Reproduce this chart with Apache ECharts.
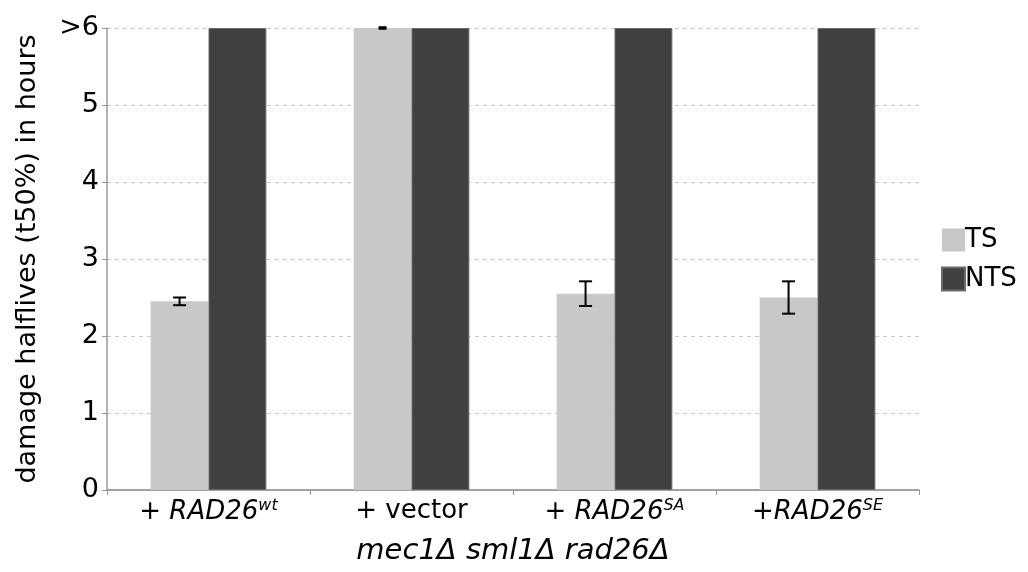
<!DOCTYPE html>
<html>
<head>
<meta charset="utf-8">
<script src="https://cdn.jsdelivr.net/npm/echarts@6/dist/echarts.min.js"></script>
<style>
  html, body { margin: 0; padding: 0; background: #fff; }
  #container { width: 1028px; height: 572px; }
</style>
</head>
<body>
<div id="container"></div>
<script>
var categories = ['+ {i|RAD26}{sup|wt}', '+ vector', '+ {i|RAD26}{sup|SA}', '+{i|RAD26}{sup|SE}'];
var tsValues = [2.45, 6, 2.55, 2.5];
var tsErrors = [0.05, 0.01, 0.16, 0.21];
var ntsValues = [6, 6, 6, 6];
var yTickLabels = ['0', '1', '2', '3', '4', '5', '>6'];

var myChart = echarts.init(document.getElementById('container'));
var font = 'DejaVu Sans, sans-serif';
var gapPct = 43;

var errData = [];
for (var k = 0; k < categories.length; k++) {
  errData.push([k, tsValues[k] - tsErrors[k], tsValues[k] + tsErrors[k]]);
}

option = {
  animation: false,
  textStyle: { fontFamily: font },
  grid: { left: 107, right: 109, top: 28, bottom: 82, outerBoundsMode: 'none', containLabel: false },
  legend: {
    data: ['TS', 'NTS'],
    orient: 'vertical',
    left: 936,
    top: 222,
    itemWidth: 23,
    itemHeight: 23,
    itemGap: 13,
    icon: 'rect',
    textStyle: { fontSize: 26, color: '#000', fontFamily: font, padding: [0, 0, 0, -5] }
  },
  xAxis: {
    type: 'category',
    data: categories,
    axisLine: { lineStyle: { color: '#888', width: 1.5 } },
    axisTick: { show: true, length: 5, lineStyle: { color: '#999' } },
    axisLabel: {
      interval: 0,
      margin: 8,
      color: '#000',
      fontSize: 26,
      fontFamily: font,
      rich: {
        i: { fontStyle: 'italic', fontSize: 26, fontFamily: font, color: '#000' },
        sup: { fontStyle: 'italic', fontSize: 16, fontFamily: font, color: '#000', verticalAlign: 'top', padding: [0, 0, 12, 0] }
      }
    },
    name: 'mec1\u0394 sml1\u0394 rad26\u0394',
    nameLocation: 'middle',
    nameGap: 47,
    nameTextStyle: { fontSize: 29, fontStyle: 'italic', color: '#000', fontFamily: font }
  },
  yAxis: {
    type: 'value',
    min: 0,
    max: 6,
    interval: 1,
    axisLine: { show: true, lineStyle: { color: '#999', width: 1.5 } },
    axisTick: { show: true, length: 5, lineStyle: { color: '#999' } },
    axisLabel: {
      color: '#000',
      fontSize: 27,
      margin: 8,
      fontFamily: font,
      formatter: function (v) { return yTickLabels[Math.round(v)]; }
    },
    splitLine: { show: true, lineStyle: { color: '#c8c8c8', type: [4, 4], width: 1 } },
    name: 'damage halflives (t50%) in hours',
    nameLocation: 'middle',
    nameGap: 66,
    nameTextStyle: { fontSize: 27, color: '#000', fontFamily: font }
  },
  series: [
    {
      name: 'TS',
      type: 'bar',
      data: tsValues,
      barGap: '0%',
      barCategoryGap: gapPct + '%',
      itemStyle: { color: '#c8c8c8' }
    },
    {
      name: 'NTS',
      type: 'bar',
      data: ntsValues,
      barGap: '0%',
      barCategoryGap: gapPct + '%',
      itemStyle: { color: '#404040', borderColor: '#6a6a6a', borderWidth: 1 }
    },
    {
      name: 'err',
      type: 'custom',
      data: errData,
      z: 10,
      renderItem: function (params, api) {
        var cat = api.value(0);
        var lo = api.coord([cat, api.value(1)]);
        var hi = api.coord([cat, api.value(2)]);
        var bandW = api.size([1, 0])[0];
        var barW = bandW * (1 - gapPct / 100) / 2;
        var x = lo[0] - barW / 2;
        var cap = hi[1] - lo[1] > -4 ? 4 : 6.5;
        var st = { stroke: '#000', lineWidth: 2 };
        return {
          type: 'group',
          children: [
            { type: 'line', shape: { x1: x, y1: lo[1], x2: x, y2: hi[1] }, style: st },
            { type: 'line', shape: { x1: x - cap, y1: lo[1], x2: x + cap, y2: lo[1] }, style: st },
            { type: 'line', shape: { x1: x - cap, y1: hi[1], x2: x + cap, y2: hi[1] }, style: st }
          ]
        };
      }
    }
  ]
};
myChart.setOption(option);
</script>
</body>
</html>
